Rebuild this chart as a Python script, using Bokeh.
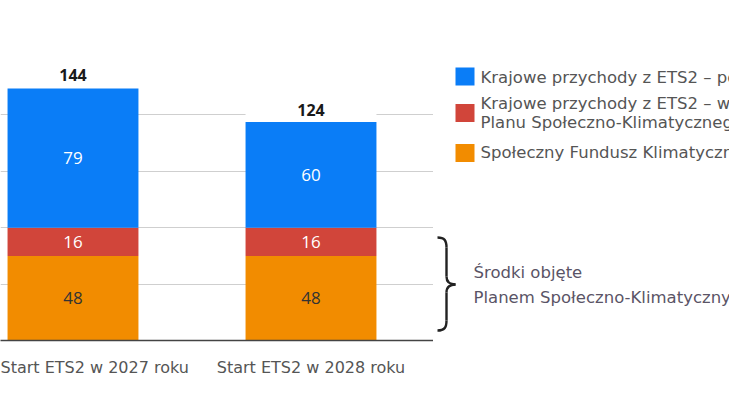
from bokeh.plotting import figure
from bokeh.layouts import row
from bokeh.models import ColumnDataSource, FixedTicker, Range1d
from bokeh.embed import file_html
from bokeh.resources import INLINE
from bokeh.core.properties import value

# ---- data ----
categories = ["Start ETS2 w 2027 roku", "Start ETS2 w 2028 roku"]
sfk = [48, 48]                 # Społeczny Fundusz Klimatyczny
krajowe_psk = [16, 16]         # Krajowe przychody z ETS2 – w ramach PSK
krajowe_pozostale = [79, 60]   # Krajowe przychody z ETS2 – pozostałe
totals = [144, 124]
series_names = [
    "Krajowe przychody z ETS2 – pozostałe",
    "Krajowe przychody z ETS2 – w ramach\nPlanu Społeczno-Klimatycznego",
    "Społeczny Fundusz Klimatyczny",
]
series_colors = ["#0A7DF7", "#D1453A", "#F28C00"]
y_ticks = [0, 32, 64, 96, 128, 160]
bracket_label = "Środki objęte\nPlanem Społeczno-Klimatycznym"

TEXT_FONT = "DejaVu Sans"
NUM_FONT = "Open Sans"
PX_PER_UNIT = 282 / 160.0

xs = list(range(len(categories)))
src = ColumnDataSource(dict(x=xs, sfk=sfk, psk=krajowe_psk, poz=krajowe_pozostale, total=totals))

p = figure(width=433, height=408, x_range=Range1d(-0.3046, 1.5147), y_range=Range1d(0, 160),
           output_backend="svg", toolbar_location=None,
           min_border_left=0, min_border_right=0, min_border_top=58, min_border_bottom=68)
p.outline_line_color = None
p.yaxis.visible = False
p.xgrid.visible = False
p.ygrid.ticker = FixedTicker(ticks=y_ticks)
p.ygrid.grid_line_color = "#cfcfcf"
p.ygrid.grid_line_width = 1

p.vbar_stack(["sfk", "psk", "poz"], x="x", width=0.55, source=src,
             color=[series_colors[2], series_colors[1], series_colors[0]], line_color=None)

# white cap behind total labels (hides gridlines like the original)
p.vbar(x=xs, bottom=totals, top=[t + 12 for t in totals], width=0.55, color="white", line_color=None)

# segment labels
mid_sfk = [v / 2 for v in sfk]
mid_psk = [a + b / 2 for a, b in zip(sfk, krajowe_psk)]
mid_poz = [a + b + c / 2 for a, b, c in zip(sfk, krajowe_psk, krajowe_pozostale)]
common = dict(text_align="center", text_baseline="middle", text_font=value(NUM_FONT), text_font_size="17px")
p.text(x=xs, y=mid_sfk, text=[str(v) for v in sfk], text_color="#333333", **common)
p.text(x=xs, y=mid_psk, text=[str(v) for v in krajowe_psk], text_color="white", **common)
p.text(x=xs, y=mid_poz, text=[str(v) for v in krajowe_pozostale], text_color="white", **common)
p.text(x=xs, y=[t + 6.5 for t in totals], text=[str(v) for v in totals], text_color="#1a1a1a",
       text_font_style="bold", text_align="center", text_baseline="middle",
       text_font=value(NUM_FONT), text_font_size="16px")

p.xaxis.ticker = FixedTicker(ticks=xs)
p.xaxis.major_label_overrides = {i: c for i, c in zip(xs, categories)}
p.xaxis.axis_line_color = "#444444"
p.xaxis.axis_line_width = 1.5
p.xaxis.major_tick_line_color = None
p.xaxis.minor_tick_line_color = None
p.xaxis.major_label_standoff = 11
p.xaxis.major_label_text_font = TEXT_FONT
p.xaxis.major_label_text_font_size = "16px"
p.xaxis.major_label_text_color = "#555555"

# ---- right panel: legend + bracket ----
p2 = figure(width=296, height=408, x_range=Range1d(0, 296), y_range=Range1d(0, 160),
            output_backend="svg", toolbar_location=None,
            min_border_left=0, min_border_right=0, min_border_top=58, min_border_bottom=68)
p2.outline_line_color = None
p2.axis.visible = False
p2.grid.visible = False

def py(v):  # picture pixel y -> data y
    return (340 - v) / PX_PER_UNIT

def px(v):  # picture pixel x -> data x
    return v - 433

sq_y = [py(76), py(112.5), py(152.5)]
p2.rect(x=[px(464.5)] * 3, y=sq_y, width=19, height=18, width_units="screen", height_units="screen",
        color=series_colors, line_color=None)

# legend texts, one entry per line (multi-line names split)
text_y_centres = [py(77), py(112.5), py(152)]
line_gap = 19.5 / PX_PER_UNIT
lx, ly, lt = [], [], []
for name, yc in zip(series_names, text_y_centres):
    lines = name.split("\n")
    n = len(lines)
    for k, ln in enumerate(lines):
        lx.append(px(480))
        ly.append(yc + ((n - 1) / 2 - k) * line_gap)
        lt.append(ln)
p2.text(x=lx, y=ly, text=lt, text_color="#555555",
        text_baseline="middle", text_align="left", text_font=value(TEXT_FONT), text_font_size="16.5px")

# curly bracket
bc = "#222222"
xl, xm, xt = px(437), px(446), px(455)
yt, ym, yb = py(237), py(284), py(330)
p2.bezier(x0=[xl, xm, xt, xm], y0=[yt, py(276), ym, py(320)],
          x1=[xm, xt, xm, xl], y1=[py(247), ym, py(292), yb],
          cx0=[px(444), xm, px(450), xm], cy0=[yt, py(282), ym, py(327)],
          cx1=[xm, px(450), xm, px(444)], cy1=[py(240), ym, py(286), yb],
          line_color=bc, line_width=2.4)
p2.segment(x0=[xm, xm], y0=[py(247), py(292)], x1=[xm, xm], y1=[py(276), py(320)],
           line_color=bc, line_width=2.4)
bl = bracket_label.split("\n")
p2.text(x=[px(473)] * len(bl), y=[py(272), py(297)], text=bl, text_color="#5a5466",
        text_baseline="middle", text_align="left", text_font=value(TEXT_FONT), text_font_size="16.5px")

layout = row(p, p2, spacing=0)
open("out.html", "w").write(file_html(layout, INLINE))
